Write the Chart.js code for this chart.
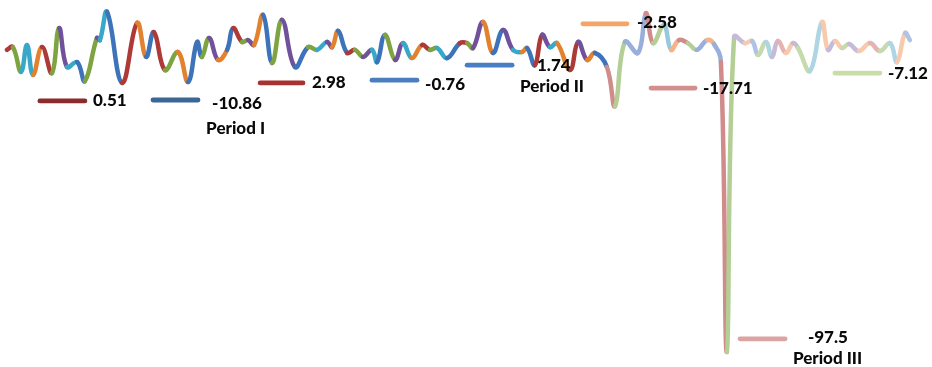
<!DOCTYPE html>
<html>
<head>
<meta charset="utf-8">
<script src="https://cdn.jsdelivr.net/npm/chart.js@4/dist/chart.umd.min.js"></script>
<style>
  html, body { margin: 0; padding: 0; background: #ffffff; }
  #wrap { width: 932px; height: 367px; position: relative; }
</style>
</head>
<body>
<div id="wrap"><canvas id="c"></canvas></div>
<script>
// ---- wave series (time, value) and the colour key of each segment ----
const waveTime = [2.3,4.3,7,9,11,14,17.3,19.7,22.3,25.7,28.3,32.3,33.3,35.7,40.7,45.7,48.7,51.3,55,59.3,
  62.7,65.7,67.3,69.7,72.7,75.7,77.7,80.7,82.7,84.7,87.7,90.7,94,98.3,102.7,105.7,109,110.7,112.7,115.7,
  118.3,121,124,125.7,128.3,131.7,134.3,137.3,140.7,143.3,145.7,149,153.3,155.7,157.7,161,164.3,167.7,171,174,
  175.7,178.3,180.7,183.3,185.7,190,192.7,195.7,198.3,202.3,205,208.3,212.7,215.3,217.7,221.3,223.7,226.3,229.3,232.3,
  235.7,238,240.3,242.3,244.7,248.3,250.7,252.7,255.3,257.3,259.3,262,264.3,266,270,274,276,278.3,280.7,283,
  286.3,290,293.3,296.7,299,301.7,303.3];
const waveValue = [-1.3,-0.4,-8.5,0.3,-9.5,-0.4,-8.9,5.8,-6.9,-5.3,-11.5,2.6,1.9,11.1,-12.1,7.5,-3.6,4.5,-7.9,-2.0,
  -11.8,1.3,-3.6,2.6,-4.6,-1.3,5.8,1.3,1.9,0.3,10.1,-5.6,8.5,-6.9,-0.4,-1.3,1.3,-0.4,4.9,-2.3,
  -1.3,-3.6,-1.3,-5.3,3.6,-4.6,0.9,-4.0,0.3,-1.3,-0.7,-4.0,0.9,0.9,-0.7,7.8,-2.3,5.2,-1.3,-2.0,
  -0.7,-6.3,3.6,-0.4,0.9,-7.9,1.3,-4.6,-2.3,-6.9,-19.7,1.3,-2.3,10.7,0.9,6.8,-1.3,1.9,0.9,-1.3,
  1.9,0.6,-5.3,-100.1,2.9,0.9,1.6,-3.0,1.3,-3.6,1.6,-2.3,0.9,-0.7,-8.2,7.8,-1.3,1.6,-0.7,0.6,
  -1.7,0.9,-1.7,0.9,-5.3,4.2,1.9];
const segKey = ['r','g','c','c','o','r','g','p','c','b','g','p','c','b','r','o','b','r','g','o',
  'b','b','g','p','o','b','r','g','p','o','b','g','p','b','g','c','p','o','b','r',
  'g','p','c','b','g','p','c','o','r','g','c','b','r','g','p','o','b','p','c','o',
  'b','r','p','c','o','r','p','o','b','R','G','B','B','R','G','C','O','R','G','B',
  'O','B','R','G','p2','o2','b2','g2','c2','p2','r2','o2','p2','g2','c2','o2','p2','o2','g2','p2',
  'o2','r2','g2','c2','o2','b2'];

// ---- annotated reference bars ----
const markerValue = [-18.0,-17.7,-12.1,-11.2,-6.3,7.2,-13.8,-8.9,-95.8];
const markerStart = [13.3,51,86.7,124,155.7,194.3,217,278.3,246.7];
const markerEnd   = [28.3,66,101,139,170.7,209,231.7,293.3,261.7];
const markerLabel = ['0.51','-10.86','2.98','-0.76','1.74','-2.58','-17.71','-7.12','-97.5'];
const labelTime   = [31,70.7,104,141.7,179,212.3,234.3,296,269.3];
const labelValue  = [-18.0,-18.7,-12.1,-12.5,-6.3,7.5,-13.8,-8.9,-95.2];
const periodLabel = ['Period I','Period II','Period III'];
const periodTime  = [68.7,173.3,264.3];
const periodValue = [-26.9,-13.4,-102.1];

// ---- styles ----
const palette = {
  r:'#AD3A37', g:'#7DA440', c:'#38A8C8', o:'#E2822F', b:'#3C73BA', p:'#71519B',
  R:'#D08C8B', G:'#B3CF95', C:'#98C9DB', O:'#F4B48A', B:'#98AEDB', P:'#B3A4CB',
  r2:'#E5B3B1', g2:'#C5DAAD', c2:'#AED5E3', o2:'#F8C9AB', b2:'#B0C3E4', p2:'#C6BADA'
};
const markerColor = ['#8B2B2B','#3A6698','#A8322F','#4A7EBF','#4A7EC4','#F4A466','#D38E8E','#C9DDA9','#DBA3A2'];

const datasets = [{
  data: waveTime.map((t,i)=>({x:t, y:waveValue[i]})),
  borderColor: palette.r,
  borderWidth: 4.5,
  tension: 0.42,
  pointRadius: 0,
  borderCapStyle: 'round',
  borderJoinStyle: 'round',
  segment: { borderColor: ctx => palette[segKey[ctx.p0DataIndex]] }
}];
markerValue.forEach((v,i)=>{
  datasets.push({
    data: [{x:markerStart[i], y:v},{x:markerEnd[i], y:v}],
    borderColor: markerColor[i],
    borderWidth: 4.8,
    pointRadius: 0,
    borderCapStyle: 'round'
  });
});

const labelPlugin = {
  id: 'labels',
  afterDatasetsDraw(chart) {
    const {ctx, scales:{x, y}} = chart;
    ctx.save();
    ctx.fillStyle = '#0a0a0a';
    ctx.font = '900 17px Lato';
    ctx.textBaseline = 'middle';
    ctx.textAlign = 'left';
    markerLabel.forEach((s,i)=> ctx.fillText(s, x.getPixelForValue(labelTime[i]), y.getPixelForValue(labelValue[i])));
    periodLabel.forEach((s,i)=> ctx.fillText(s, x.getPixelForValue(periodTime[i]), y.getPixelForValue(periodValue[i])));
    ctx.restore();
  }
};

new Chart(document.getElementById('c'), {
  type: 'line',
  data: { datasets },
  options: {
    responsive: true,
    maintainAspectRatio: false,
    animation: false,
    layout: { padding: 0 },
    plugins: { legend: { display: false }, tooltip: { enabled: false } },
    scales: {
      x: { type: 'linear', min: 0, max: 310.67, display: false },
      y: { type: 'linear', min: -105, max: 15, display: false }
    }
  },
  plugins: [labelPlugin]
});
</script>
</body>
</html>
